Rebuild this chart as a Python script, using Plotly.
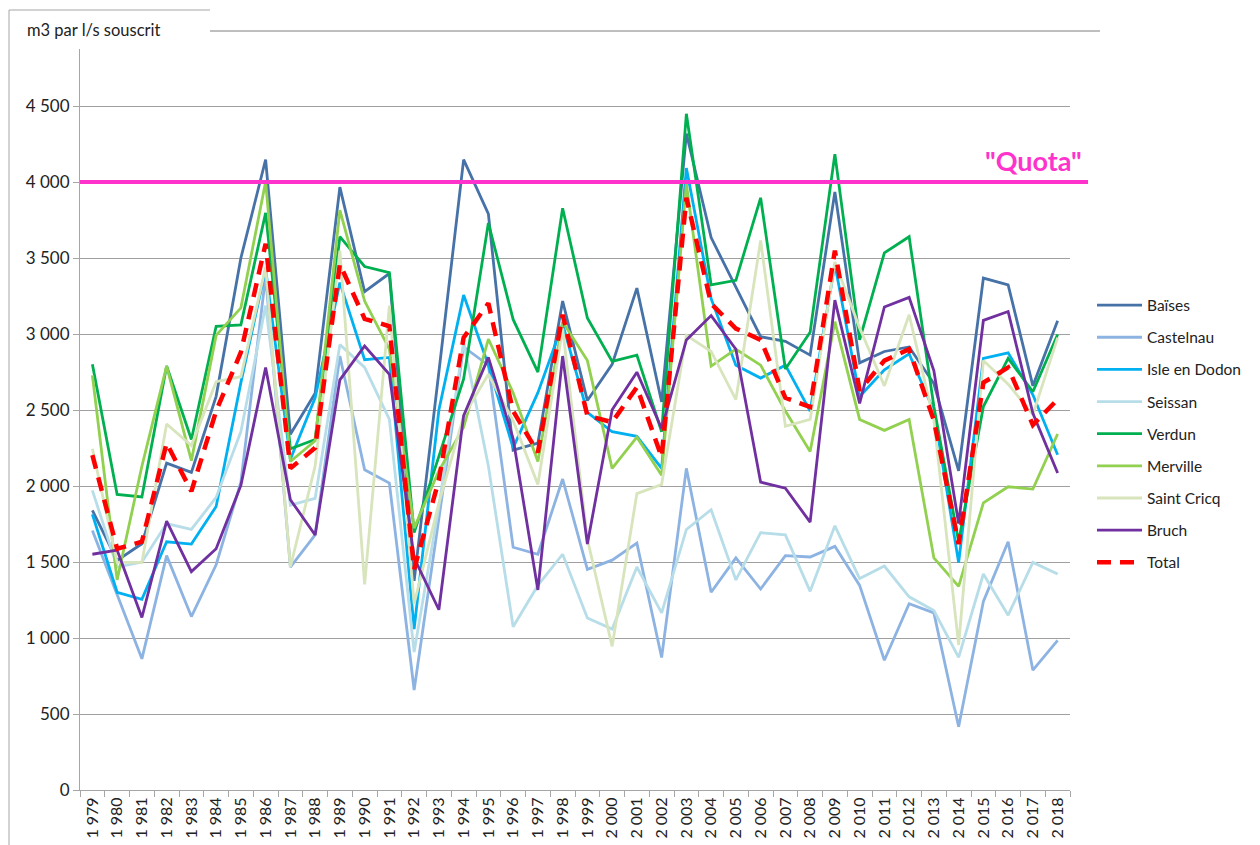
import plotly.graph_objects as go

years = list(range(1979, 2019))
year_labels = [f"{y:,}".replace(",", " ") for y in years]

baises = [1840, 1510, 1620, 2150, 2090, 2590, 3500, 4147, 2340, 2610,
          3966, 3278, 3398, 1376, 2750, 4147, 3790, 2236, 2282, 3217,
          2562, 2800, 3302, 2553, 4319, 3634, 3308, 2982, 2952, 2861,
          3935, 2810, 2885, 2915, 2674, 2100, 3368, 3323, 2659, 3087]
castelnau = [1708, 1286, 863, 1542, 1141, 1482, 2025, 3380, 1467, 1678,
             2855, 2107, 2019, 658, 1800, 2915, 2795, 1597, 1551, 2046,
             1452, 1512, 1624, 872, 2116, 1301, 1527, 1322, 1542, 1533,
             1603, 1346, 854, 1225, 1165, 416, 1240, 1633, 788, 984]
isle_en_dodon = [1814, 1301, 1255, 1633, 1618, 1865, 2680, 3428, 2176, 2580,
                 3338, 2831, 2846, 1059, 2500, 3256, 2795, 2251, 2614, 3066,
                 2484, 2357, 2327, 2116, 4092, 3232, 2795, 2710, 2795, 2493,
                 3459, 2589, 2764, 2870, 2493, 1497, 2840, 2876, 2600, 2206]
seissan = [1971, 1467, 1500, 1753, 1714, 1925, 2357, 3187, 1874, 1919,
           2930, 2780, 2438, 908, 1866, 2946, 2131, 1074, 1346, 1551,
           1132, 1059, 1467, 1165, 1714, 1844, 1382, 1693, 1678, 1307,
           1738, 1391, 1473, 1271, 1180, 872, 1421, 1150, 1497, 1421]
verdun = [2801, 1944, 1928, 2789, 2306, 3051, 3060, 3797, 2245, 2306,
          3640, 3444, 3404, 1693, 2195, 2704, 3730, 3096, 2749, 3827,
          3105, 2820, 2861, 2357, 4449, 3323, 3353, 3896, 2770, 3012,
          4183, 2961, 3534, 3640, 2523, 1633, 2523, 2840, 2620, 2997]
merville = [2728, 1382, 2130, 2789, 2167, 2991, 3172, 4002, 2161, 2297,
            3815, 3217, 2900, 1723, 2100, 2387, 2967, 2614, 2161, 3081,
            2825, 2116, 2321, 2070, 3987, 2789, 2900, 2795, 2493, 2227,
            3081, 2438, 2366, 2438, 1527, 1340, 1889, 1995, 1980, 2342]
saint_cricq = [2245, 1497, 1497, 2408, 2266, 2686, 2719, 3440, 1467, 2131,
               3549, 1352, 3187, 1225, 1888, 2460, 2735, 2430, 2010, 3036,
               1650, 945, 1950, 2010, 2991, 2885, 2568, 3616, 2393, 2438,
               3474, 3040, 2659, 3127, 2432, 954, 2825, 2670, 2470, 2976]
bruch = [1551, 1578, 1135, 1769, 1437, 1587, 2004, 2779, 1910, 1678,
         2698, 2921, 2734, 1527, 1186, 2463, 2846, 2312, 1316, 2855,
         1618, 2502, 2749, 2378, 2961, 3121, 2900, 2025, 1986, 1762,
         3223, 2544, 3178, 3241, 2758, 1753, 3090, 3148, 2478, 2085]
total = [2203, 1587, 1633, 2282, 1965, 2493, 2880, 3594, 2116, 2251,
         3459, 3100, 3051, 1452, 2040, 2976, 3202, 2493, 2221, 3127,
         2463, 2420, 2650, 2191, 3896, 3200, 3036, 2961, 2580, 2520,
         3549, 2629, 2825, 2900, 2432, 1618, 2680, 2780, 2402, 2570]

quota = 4000
y_ticks = list(range(0, 5000, 500))

series = [
    ("Baïses", baises, "#4672A8"),
    ("Castelnau", castelnau, "#8DB3E2"),
    ("Isle en Dodon", isle_en_dodon, "#00B0F0"),
    ("Seissan", seissan, "#B7DDE8"),
    ("Verdun", verdun, "#00B050"),
    ("Merville", merville, "#92D050"),
    ("Saint Cricq", saint_cricq, "#D7E4BC"),
    ("Bruch", bruch, "#7030A0"),
]

fig = go.Figure()
for name, values, color in series:
    fig.add_trace(go.Scatter(
        x=years, y=values, mode="lines", name=name, legendgroup=name,
        line=dict(color=color, width=2.8),
    ))
fig.add_trace(go.Scatter(
    x=years, y=total, mode="lines", name="Total", legendgroup="Total",
    line=dict(color="#FF0000", width=4.5, dash="14px,9px"),
))

# pixel -> paper helpers (plot area 80..1070 x, 49..790 y in the window)
def px(x):
    return (x - 80) / 990

def py(y):
    return (790 - y) / 741

fig.add_shape(type="line", xref="paper", yref="y", x0=0, x1=px(1088),
              y0=quota, y1=quota, line=dict(color="#FF33CC", width=4))
fig.add_annotation(text='"Quota"', xref="paper", yref="y", x=px(1033), y=quota,
                   xanchor="center", yanchor="bottom", yshift=3, showarrow=False,
                   font=dict(family="Lato", size=27, color="#FF33CC", weight="bold"))
fig.add_annotation(text="m3 par l/s souscrit", xref="paper", yref="paper",
                   x=px(25), y=py(30), xanchor="left", yanchor="middle",
                   showarrow=False, font=dict(family="Lato", size=16.5, color="#222222"))

frame = dict(color="#a6a6a6", width=1)
fig.add_shape(type="line", xref="paper", yref="paper", x0=px(9), x1=px(9), y0=py(10), y1=py(845), line=frame)
fig.add_shape(type="line", xref="paper", yref="paper", x0=px(9), x1=px(210), y0=py(10), y1=py(10), line=frame)
fig.add_shape(type="line", xref="paper", yref="paper", x0=px(210), x1=px(1100), y0=py(31), y1=py(31),
              line=dict(color="#7f7f7f", width=1))
fig.add_shape(type="line", xref="paper", yref="paper", x0=px(1257), x1=px(1257), y0=py(10), y1=py(845), line=frame)

# the page body adds an 8px offset, so the figure is 8px smaller and margins shifted
fig.update_layout(
    width=1252, height=837,
    margin=dict(l=72, r=190, t=41, b=55),
    paper_bgcolor="white", plot_bgcolor="white",
    separators=", ",
    font=dict(family="Lato", size=15, color="#222222"),
    showlegend=True,
    legend=dict(x=px(1092), y=py(434), xanchor="left", yanchor="middle",
                tracegroupgap=9, itemwidth=45, font=dict(size=15.5),
                bgcolor="rgba(0,0,0,0)"),
    xaxis=dict(
        range=[1978.5, 2018.5], tickvals=years, ticktext=year_labels,
        tickangle=-90, ticks="", showgrid=False, zeroline=False,
        showline=True, linecolor="#a6a6a6", linewidth=1, automargin=False,
        tickfont=dict(size=16),
        minor=dict(tickvals=[y - 0.5 for y in years] + [2018.5], ticks="outside",
                   ticklen=6, tickcolor="#a6a6a6", showgrid=False),
    ),
    yaxis=dict(
        range=[0, 4875], tickvals=y_ticks, tickformat=",d",
        ticks="outside", ticklen=6, tickcolor="#a6a6a6",
        showgrid=True, gridcolor="#a0a0a0", gridwidth=1, zeroline=False,
        showline=True, linecolor="#a6a6a6", linewidth=1, automargin=False,
        tickfont=dict(size=17),
    ),
)

fig.write_html("out.html")
